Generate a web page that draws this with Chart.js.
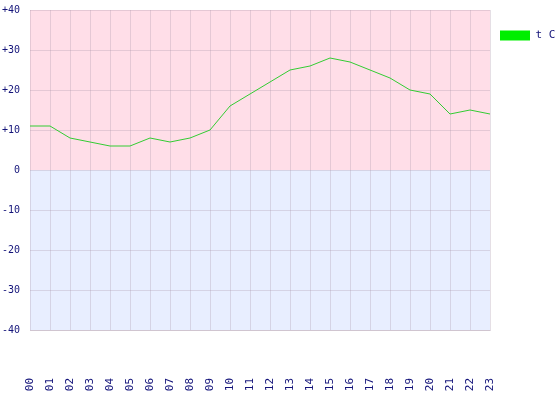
<!DOCTYPE html>
<html>
<head>
<meta charset="utf-8">
<script src="https://cdn.jsdelivr.net/npm/chart.js@4/dist/chart.umd.min.js"></script>
<style>
html,body{margin:0;padding:0;background:#fff;}
#wrap{width:560px;height:400px;}
</style>
</head>
<body>
<div id="wrap"><canvas id="c" width="560" height="400"></canvas></div>
<script>
const hours = ['00','01','02','03','04','05','06','07','08','09','10','11','12','13','14','15','16','17','18','19','20','21','22','23'];
const temps = [11,11,8,7,6,6,8,7,8,10,16,19,22,25,26,28,27,25,23,20,19,14,15,14];
const seriesName = 't C';
const yTicks = [-40,-30,-20,-10,0,10,20,30,40];

const textColor = '#14147a';

const bgPlugin = {
  id: 'bgzones',
  beforeDraw(chart) {
    const {ctx, chartArea: a, scales: {y}} = chart;
    const z = y.getPixelForValue(0);
    ctx.save();
    ctx.fillStyle = 'rgb(255,222,232)';
    ctx.fillRect(a.left, a.top, a.right - a.left, z - a.top);
    ctx.fillStyle = 'rgb(232,238,255)';
    ctx.fillRect(a.left, z, a.right - a.left, a.bottom - z);
    ctx.restore();
  }
};

new Chart(document.getElementById('c'), {
  type: 'line',
  data: {
    labels: hours,
    datasets: [{
      label: seriesName,
      data: temps,
      borderColor: '#33cc33',
      backgroundColor: '#00ee00',
      borderWidth: 1,
      pointRadius: 0,
      tension: 0,
      fill: false
    }]
  },
  options: {
    responsive: false,
    animation: false,
    devicePixelRatio: 1,
    layout: {padding: {top: 10, left: 0, right: 0, bottom: 0}},
    plugins: {
      tooltip: {enabled: false},
      legend: {
        position: 'right',
        align: 'start',
        maxWidth: 70,
        title: {display: true, text: '', padding: 0, font: {size: 10, lineHeight: 1}},
        labels: {
          boxWidth: 30,
          boxHeight: 10,
          padding: 10,
          color: textColor,
          font: {family: 'DejaVu Sans Mono', size: 11},
          generateLabels(chart) {
            const items = Chart.defaults.plugins.legend.labels.generateLabels(chart);
            items.forEach(i => { i.fillStyle = '#00ee00'; i.strokeStyle = '#00ee00'; i.lineWidth = 0; });
            return items;
          }
        }
      }
    },
    scales: {
      x: {
        type: 'category',
        offset: false,
        grid: {color: 'rgba(170,150,170,0.3)', drawTicks: false},
        border: {color: 'rgba(170,150,170,0.35)'},
        ticks: {
          color: textColor,
          font: {family: 'DejaVu Sans Mono', size: 11},
          minRotation: 90,
          maxRotation: 90,
          autoSkip: false,
          padding: 48
        },
        afterCalculateLabelRotation(s) { s.labelRotation = 90; },
        afterFit(s) { s.height = 70; s.paddingLeft = 0; s.paddingRight = 0; }
      },
      y: {
        min: -40,
        max: 40,
        afterBuildTicks(s) { s.ticks = yTicks.map(v => ({value: v})); },
        grid: {color: 'rgba(170,150,170,0.3)', drawTicks: false},
        border: {display: false},
        ticks: {
          color: textColor,
          font: {family: 'DejaVu Sans Mono', size: 10},
          padding: 10,
          callback: v => v > 0 ? '+' + v : String(v)
        },
        afterFit(s) { s.width = 30; s.paddingTop = 0; s.paddingBottom = 0; }
      }
    }
  },
  plugins: [bgPlugin]
});
</script>
</body>
</html>
